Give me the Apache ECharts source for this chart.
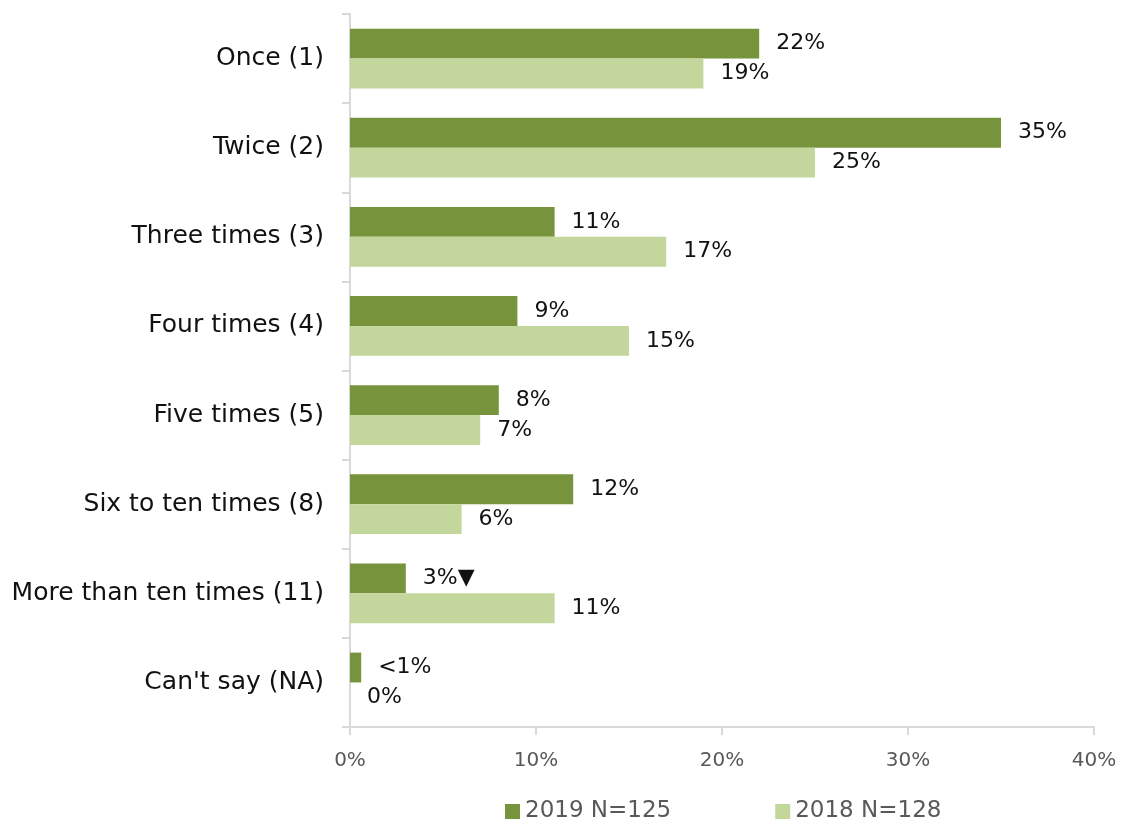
<!DOCTYPE html>
<html>
<head>
<meta charset="utf-8">
<script src="https://cdn.jsdelivr.net/npm/echarts@6/dist/echarts.min.js"></script>
<style>
  html, body { margin: 0; padding: 0; background: #fff; }
  #chart { width: 1121px; height: 825px; }
</style>
</head>
<body>
<div id="chart"></div>
<script>
// Frequency categories, top to bottom
const categories = [
  'Once (1)', 'Twice (2)', 'Three times (3)', 'Four times (4)',
  'Five times (5)', 'Six to ten times (8)', 'More than ten times (11)', "Can't say (NA)"
];
// Percent of respondents per year
const values2019 = [22, 35, 11, 9, 8, 12, 3, 0.6];
const values2018 = [19, 25, 17, 15, 7, 6, 11, 0];
// Text shown next to each bar
const labels2019 = ['22%', '35%', '11%', '9%', '8%', '12%', '3%\u25BC', '<1%'];
const labels2018 = ['19%', '25%', '17%', '15%', '7%', '6%', '11%', '0%'];
const seriesNames = ['2019 N=125', '2018 N=128'];
const xTicks = [0, 10, 20, 30, 40];

const FONT = '"DejaVu Sans", "Noto Sans", sans-serif';
const chart = echarts.init(document.getElementById('chart'));

function makeSeries(name, values, labels, color) {
  return {
    name: name,
    type: 'bar',
    data: values,
    itemStyle: { color: color },
    barGap: '0%',
    barCategoryGap: '33%',
    label: {
      show: true,
      position: 'right',
      distance: 17,
      color: '#111',
      fontSize: 22,
      fontFamily: FONT,
      formatter: p => labels[p.dataIndex]
    }
  };
}

chart.setOption({
  animation: false,
  grid: { left: 350, right: 27, top: 14, bottom: 98, containLabel: false },
  legend: {
    bottom: -3,
    left: 500,
    itemWidth: 15,
    itemHeight: 15,
    itemGap: 104,
    itemStyle: { borderWidth: 0 },
    icon: 'rect',
    textStyle: { color: '#595959', fontSize: 23, fontFamily: FONT },
    data: seriesNames
  },
  xAxis: {
    type: 'value',
    min: xTicks[0],
    max: xTicks[xTicks.length - 1],
    interval: 10,
    axisLine: { show: true, lineStyle: { color: '#d9d9d9', width: 2 } },
    axisTick: { show: true, length: 8, lineStyle: { color: '#d9d9d9', width: 2 } },
    splitLine: { show: false },
    axisLabel: {
      color: '#595959', fontSize: 20, fontFamily: FONT, margin: 24,
      formatter: v => v + '%'
    }
  },
  yAxis: {
    type: 'category',
    data: categories,
    inverse: true,
    axisLine: { show: true, lineStyle: { color: '#d9d9d9', width: 2 } },
    axisTick: { show: true, length: 8, inside: false, lineStyle: { color: '#d9d9d9', width: 2 } },
    axisLabel: { color: '#111', fontSize: 25, fontFamily: FONT, margin: 26 }
  },
  series: [
    makeSeries(seriesNames[0], values2019, labels2019, '#77933C'),
    makeSeries(seriesNames[1], values2018, labels2018, '#C3D69B')
  ]
});
</script>
</body>
</html>
